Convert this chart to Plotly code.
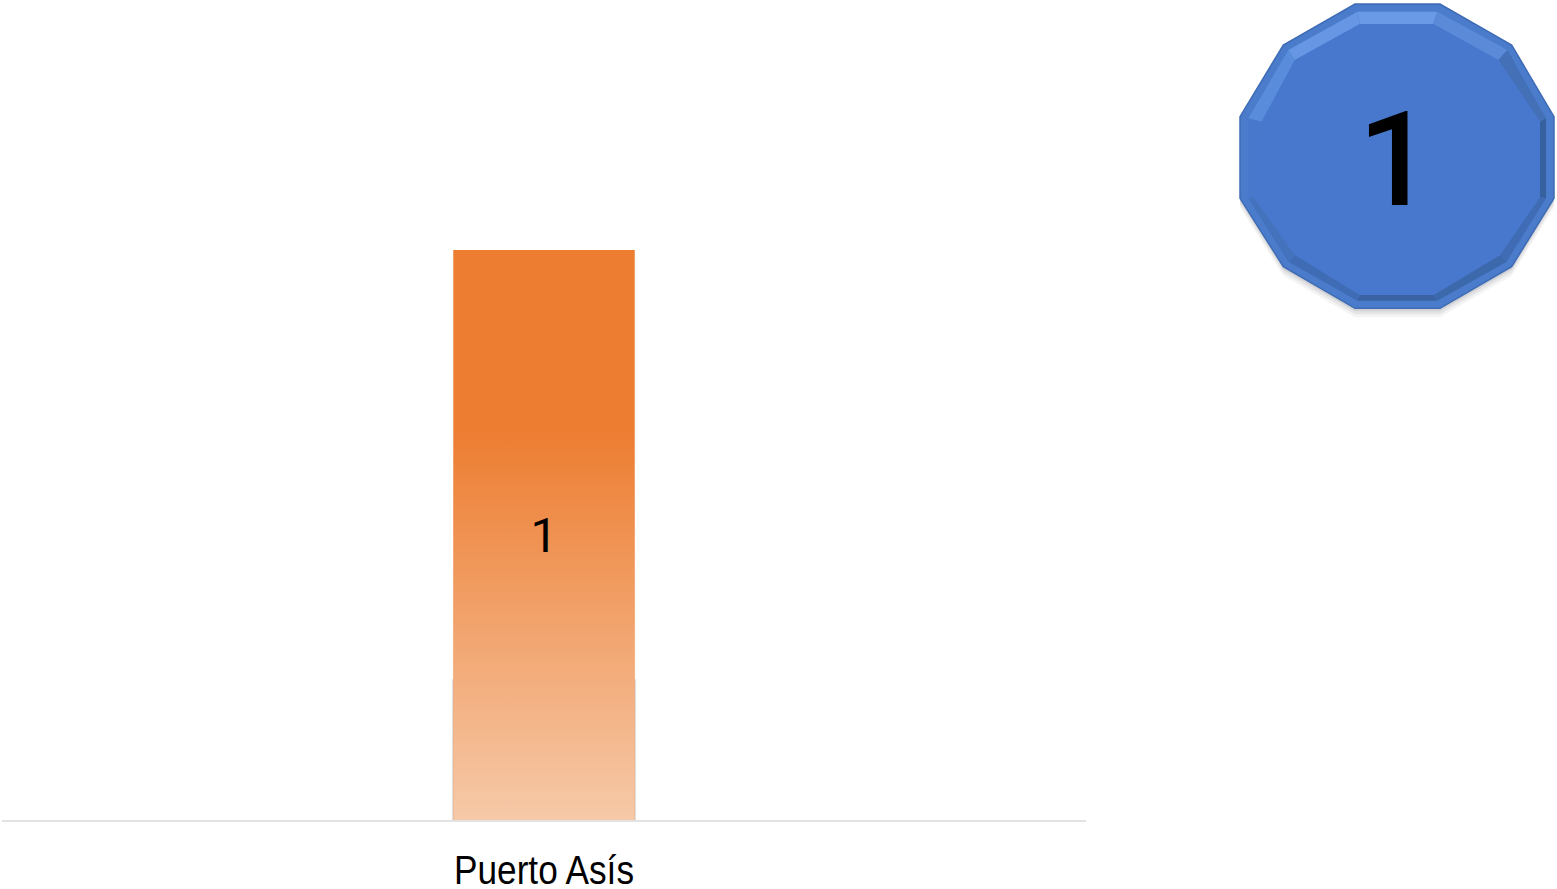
import plotly.graph_objects as go

categories = ["Puerto Asís"]
values = [1]
badge_text = "1"
W, H = 1557, 889
L, R, B = 2, 1086, 820
BAR_WIDTH = 0.167
SANS = "Liberation Sans, Arial, sans-serif"
DIGIT = "Roboto, Arial, sans-serif"

positions = list(range(len(categories)))
fig = go.Figure()

# Soft edge along the lower part of the bar, then the bar itself
fig.add_bar(x=positions, y=[v * 0.25 for v in values], width=BAR_WIDTH + 0.003, base=-0.003,
            cliponaxis=False, marker=dict(color="rgba(120,125,135,0.22)", line_width=0),
            hoverinfo="skip", showlegend=False)
fig.add_bar(x=positions, y=values, width=BAR_WIDTH,
            marker=dict(color="#ED7D31", line_width=0), showlegend=False)

# Same bars with the vertical gradient fill
for p, v in zip(positions, values):
    l, r = p - BAR_WIDTH / 2, p + BAR_WIDTH / 2
    fig.add_scatter(x=[l, r, r, l, l], y=[0, 0, v, v, 0], mode="lines",
                    line=dict(width=0), fill="toself", hoverinfo="skip", showlegend=False,
                    fillgradient=dict(type="vertical",
                                      colorscale=[[0, "#F6C9A8"], [0.684, "#ED7D31"], [1, "#ED7D31"]]))
fig.add_scatter(x=positions, y=[v / 2 - 0.009 for v in values], mode="text",
                text=[str(v) for v in values], textposition="middle center",
                textfont=dict(family=DIGIT, size=48, color="#000000"),
                hoverinfo="skip", showlegend=False)


def px(x):
    return (x - L) / (R - L)


def py(y):
    return (B - y) / B


def poly(pts, fill, line="rgba(0,0,0,0)", lw=0):
    path = "M" + " L".join(f"{px(x):.5f},{py(y):.5f}" for x, y in pts) + " Z"
    return dict(type="path", xref="paper", yref="paper", path=path,
                fillcolor=fill, line=dict(color=line, width=lw), layer="above")


def z(pts):  # from 3x crop coordinates of the badge
    return [(1220 + x / 3, y / 3) for x, y in pts]


outer = z([(405, 12), (660, 12), (875, 135), (1002, 350), (1002, 595), (875, 800),
           (660, 925), (405, 925), (190, 800), (60, 595), (60, 350), (190, 135)])
mid = z([(412, 35), (652, 35), (862, 150), (978, 355), (978, 595), (860, 785),
         (652, 902), (412, 902), (205, 785), (85, 595), (85, 355), (205, 150)])
face = z([(420, 72), (640, 72), (835, 180), (960, 365), (960, 590), (840, 765),
          (640, 885), (420, 885), (225, 765), (100, 590), (125, 365), (225, 180)])

shapes = []
for off, a in [(9, 0.05), (6, 0.07), (3, 0.10)]:
    shapes.append(poly([(x, y + off) for x, y in outer], f"rgba(40,45,60,{a})"))
shapes.append(poly(outer, "#4A7CCB", "#3E6BB4", 1.5))

# Bevel ring, one quad per polygon side
bevel = ["#6A9AE6", "#5A8AD8", "#4470B8", "#37609F", "#3F6CB4", "#3C68AC",
         "#3A62A2", "#3F6CB4", "#4472BC", "#4878CC", "#5A8CDC", "#6696E4"]
n = len(mid)
for i in range(n):
    j = (i + 1) % n
    shapes.append(poly([mid[i], mid[j], face[j], face[i]], bevel[i]))
shapes.append(poly(face, "#4878CE"))

fig.update_layout(
    width=W, height=H, barmode="overlay",
    margin=dict(l=L, r=W - R, t=0, b=H - B, autoexpand=False),
    paper_bgcolor="#FFFFFF", plot_bgcolor="#FFFFFF",
    xaxis=dict(range=[-0.5, 0.5], tickmode="array", tickvals=positions, ticktext=categories,
               showgrid=False, zeroline=False, showline=True, linecolor="#E3E3E3", linewidth=2,
               ticks="", ticklabelstandoff=14, automargin=False,
               tickfont=dict(family=SANS, size=40, color="#000000")),
    yaxis=dict(range=[0, 1.4386], visible=False, automargin=False),
    shapes=shapes,
    annotations=[dict(xref="paper", yref="paper", x=px(1395), y=py(160),
                      text=badge_text, showarrow=False, xanchor="center", yanchor="middle",
                      font=dict(family=DIGIT, size=132, weight=500, color="#000000"))],
)
# The reference's labels are set in a condensed face: fit the real text to its measured width.
post = """
document.body.style.margin='0';document.body.style.overflow='hidden';
document.querySelectorAll('.xtick text').forEach(function(t){
  t.setAttribute('textLength','180');t.setAttribute('lengthAdjust','spacingAndGlyphs');});
"""
fig.write_html("out.html", config=dict(displayModeBar=False), post_script=post)
